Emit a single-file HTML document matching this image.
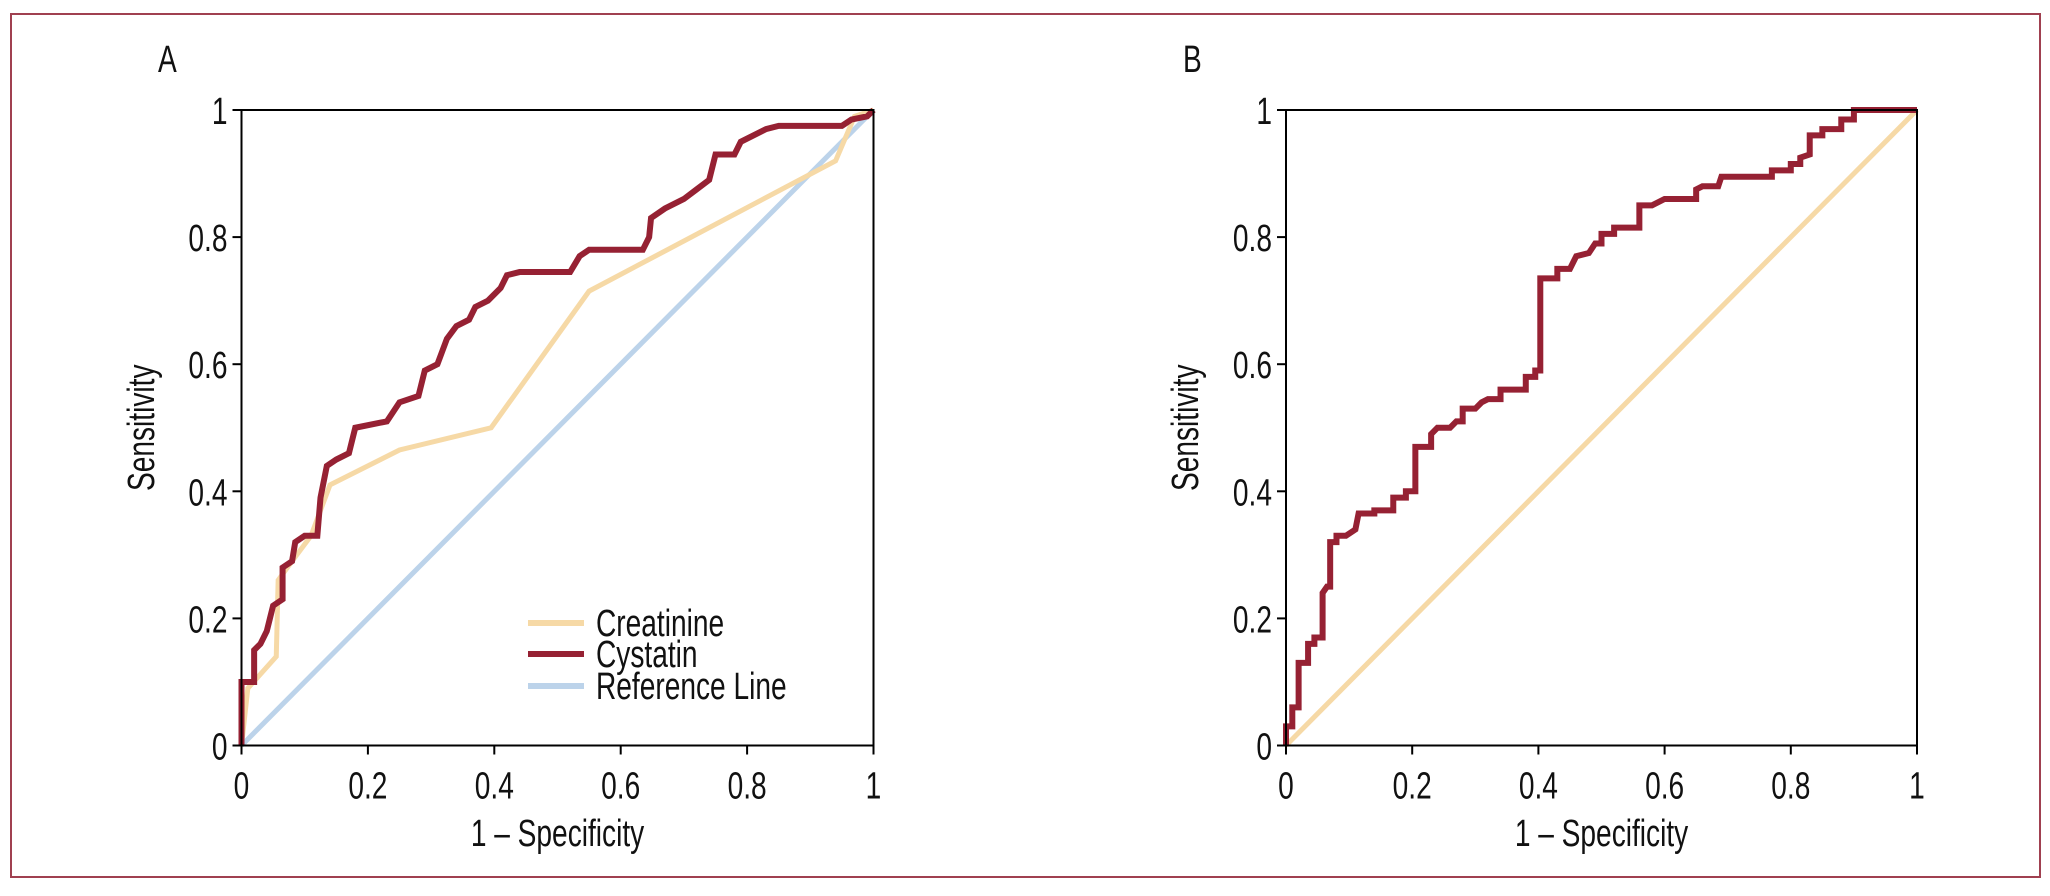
<!DOCTYPE html>
<html><head><meta charset="utf-8"><style>
html,body{margin:0;padding:0;background:#fff;}
svg text{font-family:"Liberation Sans Narrow","Liberation Sans",sans-serif;fill:#111;}
</style></head><body>
<svg id="chart" width="2050" height="891" viewBox="0 0 2050 891" xmlns="http://www.w3.org/2000/svg">
<rect x="11" y="14" width="2029" height="863" fill="none" stroke="#a04050" stroke-width="2"/>
<g id="layer"></g>
</svg>
<script>
const ticks=[0,0.2,0.4,0.6,0.8,1];
const tickLabels=["0","0.2","0.4","0.6","0.8","1"];
const aCystX=[0,0,0.02,0.02,0.03,0.04,0.045,0.05,0.065,0.065,0.08,0.085,0.1,0.12,0.125,0.135,0.15,0.17,0.18,0.23,0.25,0.28,0.29,0.31,0.325,0.34,0.36,0.37,0.39,0.41,0.42,0.44,0.52,0.535,0.55,0.635,0.645,0.648,0.67,0.7,0.72,0.74,0.75,0.78,0.79,0.83,0.85,0.95,0.965,0.99,1];
const aCystY=[0,0.1,0.1,0.15,0.16,0.18,0.2,0.22,0.23,0.28,0.29,0.32,0.33,0.33,0.39,0.44,0.45,0.46,0.5,0.51,0.54,0.55,0.59,0.6,0.64,0.66,0.67,0.69,0.7,0.72,0.74,0.745,0.745,0.77,0.78,0.78,0.8,0.83,0.845,0.86,0.875,0.89,0.93,0.93,0.95,0.97,0.975,0.975,0.985,0.99,1];
const aCreaX=[0,0.01,0.055,0.058,0.08,0.11,0.14,0.25,0.395,0.55,0.94,0.97,1];
const aCreaY=[0,0.09,0.14,0.26,0.29,0.33,0.41,0.465,0.5,0.715,0.92,0.99,1];
const refX=[0,1];
const refY=[0,1];
const bCystX=[0,0,0.01,0.01,0.02,0.02,0.035,0.035,0.045,0.045,0.058,0.058,0.065,0.07,0.07,0.08,0.08,0.095,0.11,0.115,0.14,0.14,0.17,0.17,0.19,0.19,0.205,0.205,0.23,0.23,0.24,0.26,0.27,0.28,0.28,0.3,0.31,0.32,0.34,0.34,0.38,0.38,0.395,0.395,0.403,0.403,0.43,0.43,0.45,0.455,0.46,0.48,0.49,0.5,0.5,0.52,0.52,0.56,0.56,0.58,0.6,0.65,0.65,0.66,0.685,0.69,0.77,0.77,0.8,0.8,0.815,0.815,0.83,0.83,0.85,0.85,0.88,0.88,0.9,0.9,1];
const bCystY=[0,0.03,0.03,0.06,0.06,0.13,0.13,0.16,0.16,0.17,0.17,0.24,0.25,0.25,0.32,0.32,0.33,0.33,0.34,0.365,0.365,0.37,0.37,0.39,0.39,0.4,0.4,0.47,0.47,0.49,0.5,0.5,0.51,0.51,0.53,0.53,0.54,0.545,0.545,0.56,0.56,0.58,0.58,0.59,0.59,0.735,0.735,0.75,0.75,0.76,0.77,0.775,0.79,0.79,0.805,0.805,0.815,0.815,0.85,0.85,0.86,0.86,0.875,0.88,0.88,0.895,0.895,0.905,0.905,0.915,0.915,0.925,0.93,0.96,0.96,0.97,0.97,0.985,0.985,1,1];
const legendLabels=["Creatinine","Cystatin","Reference Line"];

const NS="http://www.w3.org/2000/svg";
const layer=document.getElementById('layer');
function mk(tag,attrs,parent){const e=document.createElementNS(NS,tag);for(const k in attrs)e.setAttribute(k,attrs[k]);(parent||layer).appendChild(e);return e;}
const SX=0.74, FS=38;
function txt(parent,x,y,s,anchor,rot){
  const t=mk('text',{x:0,y:0,'font-size':FS,'text-anchor':anchor||'start',
    transform:`translate(${x},${y})`+(rot?' rotate(-90)':'')+` scale(${SX},1)`},parent);
  t.textContent=s;return t;
}
const Y0=745.5,Y1=110;
function panel(x0,x1,letter,series,titleX,letterX){
  const sx=v=>x0+v*(x1-x0), sy=v=>Y0-v*(Y0-Y1);
  const g=mk('g',{});
  
  
  const lt=txt(g,letterX,72,letter);
  
  
  series.forEach(s=>{
    const p=mk('polyline',{points:s.x.map((v,i)=>sx(v)+','+sy(s.y[i])).join(' '),fill:'none',stroke:s.c,'stroke-width':s.w,'stroke-linejoin':'miter'},g);
    
    
  });
  const box=mk('rect',{x:x0,y:Y1,width:x1-x0,height:Y0-Y1,fill:'none',stroke:'#000','stroke-width':2},g);
  
  
  ticks.forEach((t,i)=>{
    mk('line',{x1:sx(t),x2:sx(t),y1:Y0,y2:Y0+9,stroke:'#000','stroke-width':2},g);
    const xl=txt(g,sx(t),Y0+53,tickLabels[i],'middle');
    
    
    mk('line',{x1:x0-9,x2:x0,y1:sy(t),y2:sy(t),stroke:'#000','stroke-width':2},g);
    const yl=txt(g,x0-14,sy(t)+14,tickLabels[i],'end');
    
    
  });
  const xt=txt(g,(x0+x1)/2,846,'1 – Specificity','middle');
  
  
  const yt=txt(g,titleX,(Y0+Y1)/2,'Sensitivity','middle',true);
  
  
  return {sx,sy,g};
}
const CRE='#f6d9a6',CYS='#962133',REF='#bcd3ea';
const A=panel(241.5,873.5,'A',[
  {x:refX,y:refY,c:REF,w:5,n:'reference-line-a'},
  {x:aCreaX,y:aCreaY,c:CRE,w:5,n:'creatinine-curve-a'},
  {x:aCystX,y:aCystY,c:CYS,w:6,n:'cystatin-curve-a'}],154,158);
const B=panel(1286,1917,'B',[
  {x:refX,y:refY,c:CRE,w:5,n:'reference-line-b'},
  {x:bCystX,y:bCystY,c:CYS,w:6,n:'cystatin-curve-b'}],1198,1183);
const lg=mk('g',{});


const lcol=[CRE,CYS,REF], ly=[623,654,686];
legendLabels.forEach((l,i)=>{
  const e=mk('g',{},lg);
  
  
  mk('line',{x1:528,x2:584,y1:ly[i],y2:ly[i],stroke:lcol[i],'stroke-width':6},e);
  txt(e,596,ly[i]+13,l);
});
</script>
</body></html>
